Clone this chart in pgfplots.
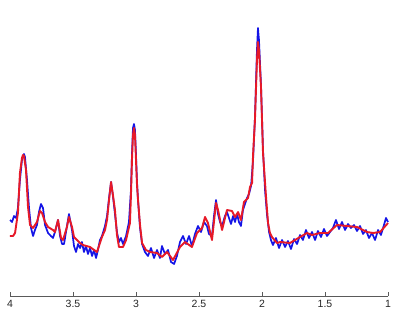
\documentclass[border=0pt]{standalone}
\usepackage{pgfplots}
\pgfplotsset{compat=1.18}
\usepackage{fontspec}
\setmainfont{Liberation Sans}
\definecolor{specblue}{RGB}{20,20,230}
\definecolor{specred}{RGB}{230,25,40}
\definecolor{axgray}{RGB}{90,90,90}
\begin{document}
\begin{tikzpicture}
\begin{axis}[
  at={(0,0)}, anchor=south west,
  scale only axis, width=378pt, height=296pt,
  xmin=1, xmax=4, ymin=0, ymax=296, x dir=reverse,
  axis x line=bottom, axis y line=none,
  axis line style={draw=axgray,-,line width=0.6pt},
  xtick={1,1.5,2,2.5,3,3.5,4},
  tick align=inside, major tick length=4pt,
  tick style={draw=axgray,line width=0.6pt},
  xticklabel style={font=\fontsize{10.5}{12}\selectfont, text=black!85, yshift=-1pt},
  /pgf/number format/assume math mode=true,
  clip=false,
]
\addplot[specblue, line width=1.7pt, line join=round, mark=none] coordinates {
(4.000,76)(3.984,74)(3.968,80)(3.952,78)(3.937,88)(3.921,116)(3.905,136)(3.889,142)(3.881,139)
(3.865,116)(3.849,88)(3.833,68)(3.817,60)(3.802,66)(3.786,71)(3.770,84)(3.754,92)(3.738,88)
(3.722,71)(3.698,63)(3.675,60)(3.659,58)(3.643,64)(3.619,76)(3.603,60)(3.587,52)(3.571,52)
(3.548,70)(3.532,82)(3.508,66)(3.492,50)(3.476,44)(3.460,52)(3.444,48)(3.429,54)(3.413,44)
(3.397,50)(3.381,42)(3.365,48)(3.349,40)(3.333,46)(3.317,38)(3.302,46)(3.286,56)(3.270,60)
(3.246,70)(3.230,80)(3.214,98)(3.198,114)(3.183,100)(3.167,82)(3.151,64)(3.135,54)(3.119,58)
(3.103,52)(3.079,60)(3.056,74)(3.040,106)(3.032,141)(3.024,168)(3.016,172)(3.008,166)(3.000,141)
(2.992,114)(2.984,96)(2.968,68)(2.952,52)(2.929,44)(2.905,40)(2.881,48)(2.857,38)(2.833,46)
(2.810,38)(2.794,50)(2.770,42)(2.746,46)(2.722,34)(2.698,32)(2.675,40)(2.651,54)(2.627,60)
(2.603,52)(2.579,60)(2.556,50)(2.532,62)(2.508,70)(2.484,64)(2.460,74)(2.437,70)(2.421,62)
(2.397,60)(2.381,80)(2.365,96)(2.349,82)(2.333,74)(2.317,70)(2.294,80)(2.278,84)(2.262,78)
(2.246,72)(2.230,80)(2.214,74)(2.198,82)(2.183,74)(2.167,70)(2.151,86)(2.135,92)(2.119,98)
(2.103,102)(2.087,110)(2.071,136)(2.056,178)(2.048,211)(2.040,246)(2.032,268)(2.024,256)
(2.008,211)(1.992,146)(1.976,106)(1.960,81)(1.944,64)(1.929,56)(1.913,51)(1.889,58)(1.865,48)
(1.841,56)(1.817,49)(1.794,55)(1.770,47)(1.746,57)(1.722,52)(1.698,61)(1.675,56)(1.651,66)
(1.627,58)(1.603,64)(1.579,56)(1.556,65)(1.532,59)(1.508,67)(1.484,60)(1.460,64)(1.437,68)
(1.413,76)(1.389,67)(1.365,74)(1.341,66)(1.317,72)(1.294,68)(1.270,71)(1.246,65)(1.222,70)
(1.198,62)(1.175,66)(1.151,58)(1.127,63)(1.103,56)(1.079,66)(1.056,61)(1.032,71)(1.016,78)(1.000,74)
};
\addplot[specred, line width=1.9pt, line join=round, mark=none] coordinates {
(4.000,60)(3.976,60)(3.960,63)(3.937,83)(3.921,123)(3.905,138)(3.897,141)(3.889,140)(3.873,126)
(3.857,89)(3.841,71)(3.817,68)(3.786,74)(3.762,85)(3.746,83)(3.722,74)(3.698,69)(3.659,66)
(3.643,64)(3.619,76)(3.595,58)(3.579,56)(3.548,69)(3.532,79)(3.508,69)(3.492,59)(3.468,56)
(3.444,53)(3.421,51)(3.365,49)(3.310,44)(3.286,53)(3.270,59)(3.246,66)(3.230,76)(3.214,96)
(3.198,114)(3.183,101)(3.167,86)(3.151,61)(3.135,49)(3.103,49)(3.079,56)(3.048,73)(3.040,101)
(3.032,136)(3.024,161)(3.016,168)(3.008,161)(3.000,136)(2.992,111)(2.984,96)(2.968,71)(2.952,53)
(2.921,46)(2.889,44)(2.833,43)(2.794,39)(2.754,44)(2.706,36)(2.651,49)(2.611,54)(2.556,49)
(2.516,63)(2.492,66)(2.476,68)(2.452,79)(2.429,73)(2.397,56)(2.365,93)(2.349,86)(2.317,66)
(2.278,86)(2.238,85)(2.214,79)(2.190,84)(2.167,76)(2.143,94)(2.111,98)(2.095,109)(2.079,113)
(2.071,141)(2.056,176)(2.048,206)(2.040,236)(2.032,254)(2.024,246)(2.008,209)(1.992,143)
(1.968,99)(1.952,73)(1.937,63)(1.921,59)(1.881,53)(1.857,54)(1.778,53)(1.698,59)(1.643,63)
(1.603,61)(1.540,63)(1.476,63)(1.405,71)(1.325,70)(1.246,69)(1.167,64)(1.119,63)(1.063,64)(1.000,73)
};
\path (axis cs:4.0794,-25) rectangle (axis cs:0.9048,296);
\end{axis}
\end{tikzpicture}
\end{document}
